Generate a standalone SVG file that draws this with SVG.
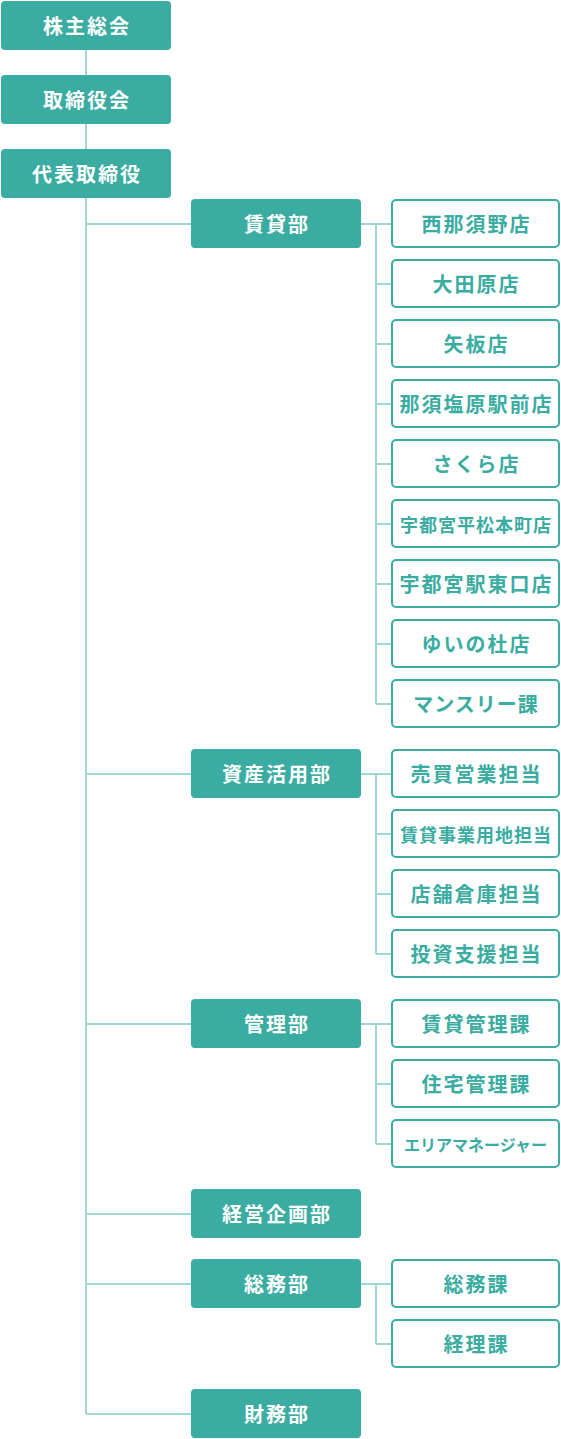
<svg xmlns="http://www.w3.org/2000/svg" width="561" height="1439" viewBox="0 0 561 1439">
<style>
.f{fill:#3aaca1}
.c{fill:#fff;stroke:#3aaca1;stroke-width:2}
.ln{stroke:#a2d7d1;stroke-width:2;fill:none}
text{font-family:"Noto Sans CJK JP","Noto Sans",sans-serif;font-weight:700;text-anchor:middle;dominant-baseline:central}
.w{fill:#fff;font-size:20px;letter-spacing:2px}
.t{fill:#3aaca1;font-size:20px;letter-spacing:2px}
.t8{fill:#3aaca1;font-size:18px;letter-spacing:1px}
.t9{fill:#3aaca1;font-size:16px;letter-spacing:0px}
</style>
<rect width="561" height="1439" fill="#fff"/>
<g id="connectors">
<path class="ln" d="M86 50V75M86 124V149M86 198V1414"/>
<path class="ln" d="M86 224H191M86 774H191M86 1024H191M86 1214H191M86 1284H191M86 1414H191"/>
<path class="ln" d="M361 224H391M376 224V704M376 284H391M376 344H391M376 404H391M376 464H391M376 524H391M376 584H391M376 644H391M376 704H391"/>
<path class="ln" d="M361 774H391M376 774V954M376 834H391M376 894H391M376 954H391"/>
<path class="ln" d="M361 1024H391M376 1024V1144M376 1084H391M376 1144H391"/>
<path class="ln" d="M361 1284H391M376 1284V1344M376 1344H391"/>
</g>
<g id="n-kabunushi"><rect class="f" x="1" y="1" width="170" height="49" rx="4"/><text class="w" x="87" y="25.5">株主総会</text></g>
<g id="n-torishimariyakukai"><rect class="f" x="1" y="75" width="170" height="49" rx="4"/><text class="w" x="87" y="99.5">取締役会</text></g>
<g id="n-daihyo"><rect class="f" x="1" y="149" width="170" height="49" rx="4"/><text class="w" x="87" y="173.5">代表取締役</text></g>

<g id="d-chintai"><rect class="f" x="191" y="199" width="170" height="49" rx="4"/><text class="w" x="277" y="223.5">賃貸部</text></g>
<g id="d-shisan"><rect class="f" x="191" y="749" width="170" height="49" rx="4"/><text class="w" x="277" y="773.5">資産活用部</text></g>
<g id="d-kanri"><rect class="f" x="191" y="999" width="170" height="49" rx="4"/><text class="w" x="277" y="1023.5">管理部</text></g>
<g id="d-keiei"><rect class="f" x="191" y="1189" width="170" height="49" rx="4"/><text class="w" x="277" y="1213.5">経営企画部</text></g>
<g id="d-soumu"><rect class="f" x="191" y="1259" width="170" height="49" rx="4"/><text class="w" x="277" y="1283.5">総務部</text></g>
<g id="d-zaimu"><rect class="f" x="191" y="1389" width="170" height="49" rx="4"/><text class="w" x="277" y="1413.5">財務部</text></g>

<g id="c1"><rect class="c" x="392" y="200" width="167" height="47" rx="4"/><text class="t" x="476.5" y="223.5">西那須野店</text></g>
<g id="c2"><rect class="c" x="392" y="260" width="167" height="47" rx="4"/><text class="t" x="476.5" y="283.5">大田原店</text></g>
<g id="c3"><rect class="c" x="392" y="320" width="167" height="47" rx="4"/><text class="t" x="476.5" y="343.5">矢板店</text></g>
<g id="c4"><rect class="c" x="392" y="380" width="167" height="47" rx="4"/><text class="t" x="476.5" y="403.5">那須塩原駅前店</text></g>
<g id="c5"><rect class="c" x="392" y="440" width="167" height="47" rx="4"/><text class="t" x="476.5" y="463.5">さくら店</text></g>
<g id="c6"><rect class="c" x="392" y="500" width="167" height="47" rx="4"/><text class="t8" x="476" y="523.5">宇都宮平松本町店</text></g>
<g id="c7"><rect class="c" x="392" y="560" width="167" height="47" rx="4"/><text class="t" x="476.5" y="583.5">宇都宮駅東口店</text></g>
<g id="c8"><rect class="c" x="392" y="620" width="167" height="47" rx="4"/><text class="t" x="476.5" y="643.5">ゆいの杜店</text></g>
<g id="c9"><rect class="c" x="392" y="680" width="167" height="47" rx="4"/><text class="t" x="476" y="703.5" style="letter-spacing:1px">マンスリー課</text></g>

<g id="c10"><rect class="c" x="392" y="750" width="167" height="47" rx="4"/><text class="t" x="476.5" y="773.5">売買営業担当</text></g>
<g id="c11"><rect class="c" x="392" y="810" width="167" height="47" rx="4"/><text class="t8" x="476" y="833.5">賃貸事業用地担当</text></g>
<g id="c12"><rect class="c" x="392" y="870" width="167" height="47" rx="4"/><text class="t" x="476.5" y="893.5">店舗倉庫担当</text></g>
<g id="c13"><rect class="c" x="392" y="930" width="167" height="47" rx="4"/><text class="t" x="476.5" y="953.5">投資支援担当</text></g>

<g id="c14"><rect class="c" x="392" y="1000" width="167" height="47" rx="4"/><text class="t" x="476.5" y="1023.5">賃貸管理課</text></g>
<g id="c15"><rect class="c" x="392" y="1060" width="167" height="47" rx="4"/><text class="t" x="476.5" y="1083.5">住宅管理課</text></g>
<g id="c16"><rect class="c" x="392" y="1120" width="167" height="47" rx="4"/><text class="t9" x="475.5" y="1143.5">エリアマネージャー</text></g>

<g id="c17"><rect class="c" x="392" y="1260" width="167" height="47" rx="4"/><text class="t" x="476.5" y="1283.5">総務課</text></g>
<g id="c18"><rect class="c" x="392" y="1320" width="167" height="47" rx="4"/><text class="t" x="476.5" y="1343.5">経理課</text></g>
</svg>
